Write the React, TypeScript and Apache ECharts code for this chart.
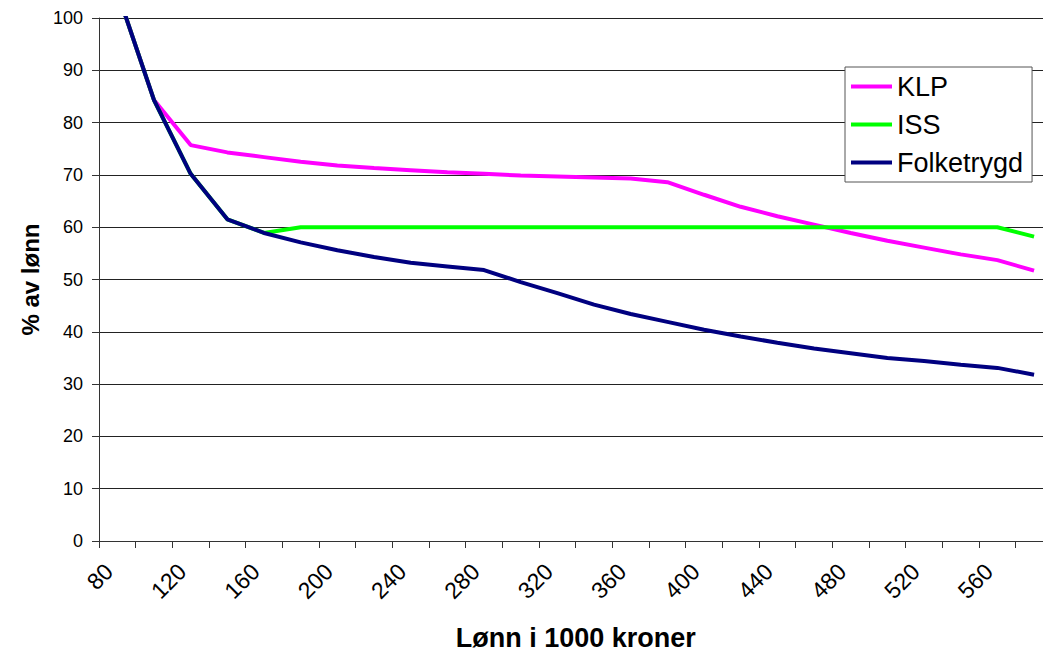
import React, { useEffect, useRef } from "react";
import * as echarts from "echarts";

const categories = [
  "80", "100", "120", "140", "160", "180", "200", "220", "240", "260",
  "280", "300", "320", "340", "360", "380", "400", "420", "440", "460",
  "480", "500", "520", "540", "560", "580",
];

const klp = [
  105, 84.3, 75.7, 74.3, 73.4, 72.5, 71.8, 71.3, 70.9, 70.5,
  70.2, 69.9, 69.7, 69.5, 69.3, 68.6, 66.2, 63.9, 62.1, 60.5,
  58.9, 57.4, 56.1, 54.8, 53.7, 51.7,
];

const iss = [
  105, 84.3, 70.2, 61.5, 58.9, 60, 60, 60, 60, 60,
  60, 60, 60, 60, 60, 60, 60, 60, 60, 60,
  60, 60, 60, 60, 60, 58.2,
];

const folketrygd = [
  105, 84.3, 70.2, 61.5, 58.9, 57.1, 55.6, 54.3, 53.2, 52.5,
  51.8, 49.5, 47.4, 45.2, 43.4, 41.9, 40.4, 39.1, 37.9, 36.8,
  35.9, 35.0, 34.4, 33.7, 33.1, 31.8,
];

const yTicks = { min: 0, max: 100, interval: 10 };

const FONT = "'Liberation Sans', Arial, Helvetica, sans-serif";

export default function App() {
  const ref = useRef<HTMLDivElement>(null);

  useEffect(() => {
    document.body.style.margin = "0";
    if (!ref.current) return;
    const chart = echarts.init(ref.current, undefined, { renderer: "svg" });
    const lineSeries = (name: string, data: number[], color: string) => ({
      name,
      type: "line",
      data,
      symbol: "none",
      showSymbol: false,
      lineStyle: { color, width: 4 },
      itemStyle: { color },
      clip: true,
    });
    chart.setOption({
      animation: false,
      backgroundColor: "#ffffff",
      textStyle: { fontFamily: FONT, color: "#000" },
      grid: {
        left: 99,
        top: 18,
        width: 953.4,
        height: 523,
        containLabel: false,
        outerBoundsMode: "none",
      },
      legend: {
        orient: "vertical",
        left: 845,
        top: 67,
        icon: "rect",
        itemWidth: 41,
        itemHeight: 4,
        itemGap: 11,
        padding: [6, 9, 6, 6],
        backgroundColor: "#fff",
        borderColor: "#555",
        borderWidth: 1,
        borderRadius: 0,
        textStyle: { fontFamily: FONT, fontSize: 27, lineHeight: 26, color: "#000" },
        data: ["KLP", "ISS", "Folketrygd"],
      },
      xAxis: {
        type: "category",
        data: categories,
        boundaryGap: true,
        name: "Lønn i 1000 kroner",
        nameLocation: "middle",
        nameGap: 83,
        nameTextStyle: { fontFamily: FONT, fontSize: 27, fontWeight: "bold", color: "#000" },
        axisLine: { show: true, lineStyle: { color: "#333", width: 1 } },
        axisTick: { show: true, interval: 0, length: 7, alignWithLabel: false, lineStyle: { color: "#333" } },
        axisLabel: {
          interval: 1,
          rotate: 45,
          margin: 18,
          padding: [0, 12, 0, 0],
          fontSize: 23,
          fontFamily: FONT,
          color: "#000",
        },
        splitLine: { show: false },
      },
      yAxis: {
        type: "value",
        min: yTicks.min,
        max: yTicks.max,
        interval: yTicks.interval,
        name: "% av lønn",
        nameLocation: "middle",
        nameGap: 57,
        nameTextStyle: { fontFamily: FONT, fontSize: 24, fontWeight: "bold", color: "#000" },
        axisLine: { show: true, lineStyle: { color: "#333", width: 1 } },
        axisTick: { show: true, length: 7, lineStyle: { color: "#333" } },
        axisLabel: { margin: 16, fontSize: 18, fontFamily: FONT, color: "#000" },
        splitLine: { show: true, lineStyle: { color: "#222", width: 1 } },
      },
      series: [
        lineSeries("KLP", klp, "#ff00ff"),
        lineSeries("ISS", iss, "#00ff00"),
        lineSeries("Folketrygd", folketrygd, "#000080"),
      ],
    });
    return () => chart.dispose();
  }, []);

  return <div ref={ref} style={{ width: 1043, height: 654, overflow: "hidden" }} />;
}
